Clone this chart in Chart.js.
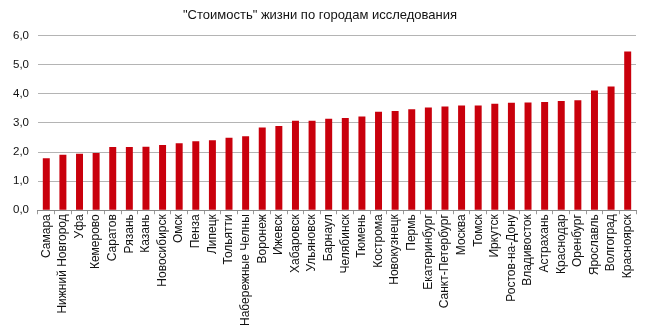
<!DOCTYPE html>
<html lang="ru">
<head>
<meta charset="utf-8">
<script src="https://cdn.jsdelivr.net/npm/chart.js@4/dist/chart.umd.min.js"></script>
<style>
  html, body { margin: 0; padding: 0; background: #fff; }
  #wrap { width: 654px; height: 326px; position: relative; }
</style>
</head>
<body>
<div id="wrap"><canvas id="chart"></canvas></div>
<script>
// ===== Data =====
const cities = [
  "Самара", "Нижний Новгород", "Уфа", "Кемерово", "Саратов", "Рязань",
  "Казань", "Новосибирск", "Омск", "Пенза", "Липецк", "Тольятти",
  "Набережные Челны", "Воронеж", "Ижевск", "Хабаровск", "Ульяновск", "Барнаул",
  "Челябинск", "Тюмень", "Кострома", "Новокузнецк", "Пермь", "Екатеринбург",
  "Санкт-Петербург", "Москва", "Томск", "Иркутск", "Ростов-на-Дону", "Владивосток",
  "Астрахань", "Краснодар", "Оренбург", "Ярославль", "Волгоград", "Красноярск"
];

const costIndex = [
  1.79, 1.91, 1.94, 1.97, 2.17, 2.17,
  2.18, 2.24, 2.30, 2.37, 2.40, 2.49,
  2.54, 2.84, 2.89, 3.07, 3.07, 3.14,
  3.17, 3.22, 3.38, 3.41, 3.47, 3.53,
  3.56, 3.60, 3.60, 3.66, 3.69, 3.70,
  3.72, 3.75, 3.78, 4.11, 4.25, 5.45
];

const yTicks = [0, 1, 2, 3, 4, 5, 6];

const titleText = "\"Стоимость\" жизни по городам исследования";

// ===== Chart =====
const font = "'Liberation Sans', Arial, Helvetica, sans-serif";

new Chart(document.getElementById("chart"), {
  type: "bar",
  data: {
    labels: cities,
    datasets: [{
      label: "Стоимость",
      data: costIndex,
      backgroundColor: "#c9000c",
      borderWidth: 0,
      barPercentage: 0.42,
      categoryPercentage: 1
    }]
  },
  options: {
    responsive: true,
    maintainAspectRatio: false,
    animation: false,
    layout: { padding: { top: 6, right: 18, bottom: 0, left: 4 } },
    plugins: {
      legend: { display: false },
      tooltip: { enabled: false },
      title: {
        display: true,
        text: titleText,
        color: "#111",
        font: { family: font, size: 13, weight: "normal" },
        padding: { top: 2, bottom: 12 }
      }
    },
    scales: {
      x: {
        grid: {
          offset: true,
          drawOnChartArea: false,
          drawTicks: true,
          tickLength: 4,
          color: "#9a9a9a"
        },
        border: { display: true, color: "#8a8a8a" },
        ticks: {
          autoSkip: false,
          maxRotation: 90,
          minRotation: 90,
          padding: 0,
          color: "#111",
          font: { family: font, size: 12 }
        }
      },
      y: {
        min: yTicks[0],
        max: yTicks[yTicks.length - 1],
        afterBuildTicks: (axis) => { axis.ticks = yTicks.map(v => ({ value: v })); },
        grid: { color: "#b4b4b4", drawTicks: false, lineWidth: 1 },
        border: { display: false },
        ticks: {
          padding: 9,
          color: "#111",
          font: { family: font, size: 11.5 },
          callback: (v) => Number(v).toFixed(1).replace(".", ",")
        }
      }
    }
  }
});
</script>
</body>
</html>
